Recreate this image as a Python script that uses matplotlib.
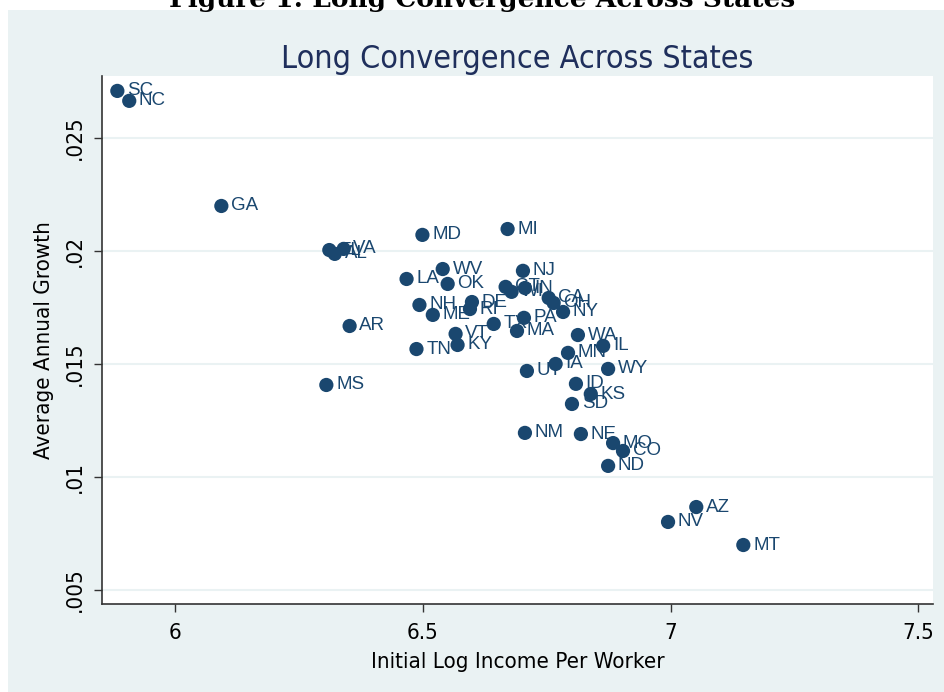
import matplotlib.pyplot as plt
from matplotlib.patches import Rectangle

# state, initial log income per worker, average annual growth
states = ["SC", "NC", "GA", "MD", "MI", "FL", "VA", "AL", "LA", "WV",
          "OK", "NH", "ME", "AR", "TN", "VT", "KY", "DE", "RI", "NJ",
          "CT", "WI", "IN", "CA", "OH", "NY", "PA", "TX", "MA", "WA",
          "IL", "MN", "IA", "UT", "WY", "ID", "KS", "SD", "NM", "NE",
          "MO", "CO", "ND", "MS", "AZ", "NV", "MT"]
log_income = [5.883, 5.907, 6.093, 6.499, 6.671, 6.311, 6.340, 6.322, 6.467, 6.540,
              6.550, 6.493, 6.520, 6.352, 6.487, 6.566, 6.570, 6.599, 6.595, 6.702,
              6.667, 6.679, 6.706, 6.754, 6.764, 6.783, 6.704, 6.643, 6.690, 6.813,
              6.864, 6.793, 6.768, 6.710, 6.874, 6.809, 6.839, 6.801, 6.706, 6.819,
              6.884, 6.904, 6.874, 6.305, 7.052, 6.995, 7.147]
growth = [0.02708, 0.02664, 0.02199, 0.02071, 0.02097, 0.02004, 0.02009, 0.01987, 0.01876, 0.01920,
          0.01854, 0.01761, 0.01717, 0.01668, 0.01566, 0.01633, 0.01584, 0.01774, 0.01743, 0.01912,
          0.01841, 0.01819, 0.01836, 0.01792, 0.01770, 0.01730, 0.01704, 0.01677, 0.01646, 0.01628,
          0.01580, 0.01549, 0.01500, 0.01469, 0.01478, 0.01412, 0.01367, 0.01323, 0.01195, 0.01190,
          0.01150, 0.01115, 0.01049, 0.01407, 0.00867, 0.00801, 0.00699]

xticks = [6, 6.5, 7, 7.5]
xtick_labels = ["6", "6.5", "7", "7.5"]
yticks = [0.005, 0.01, 0.015, 0.02, 0.025]
ytick_labels = [".005", ".01", ".015", ".02", ".025"]

navy = "#1a476f"
panel = "#eaf2f3"
narrow = dict(family="DejaVu Sans", fontstretch="condensed")

fig = plt.figure(figsize=(9.45, 6.92), dpi=100)
fig.patch.set_facecolor("white")

# graph region background
fig.patches.append(Rectangle((8 / 945, 0), 1 - 8 / 945, 1 - 10 / 692,
                             transform=fig.transFigure, facecolor=panel,
                             edgecolor="none", zorder=-10))

# figure caption, mostly cut off at the top edge
fig.text(482 / 945, 1 + 1 / 692, "Figure 1: Long Convergence Across States",
         ha="center", va="center", fontsize=19, fontweight="bold",
         family="DejaVu Serif", color="black")

ax = fig.add_axes([102 / 945, 1 - 604 / 692, (933 - 102) / 945, (604 - 76) / 692])
ax.set_facecolor("white")

ax.scatter(log_income, growth, s=105, color=navy, edgecolors="none", zorder=3)
for st, x, y in zip(states, log_income, growth):
    ax.annotate(st, (x, y), xytext=(7, 0), textcoords="offset points",
                ha="left", va="center", fontsize=13.5, color=navy,
                family="Liberation Sans", zorder=2)

ax.set_xlim(5.852, 7.53)
ax.set_ylim(0.00438, 0.02774)

ax.set_xticks(xticks)
ax.set_xticklabels(xtick_labels, fontsize=16, **narrow)
ax.set_yticks(yticks)
ax.set_yticklabels(ytick_labels, fontsize=16, rotation=90, va="center", **narrow)

ax.tick_params(axis="x", direction="out", length=6, width=1, color="#333333", pad=8)
ax.tick_params(axis="y", direction="out", length=6, width=1, color="#333333", pad=6)
ax.grid(axis="y", color=panel, linewidth=1.5, zorder=0)
ax.set_axisbelow(True)

for side in ["top", "right"]:
    ax.spines[side].set_visible(False)
for side in ["left", "bottom"]:
    ax.spines[side].set_color("#333333")
    ax.spines[side].set_linewidth(1.2)

ax.set_xlabel("Initial Log Income Per Worker", fontsize=16, labelpad=6, **narrow)
ax.set_ylabel("Average Annual Growth", fontsize=16, labelpad=8, **narrow)
ax.set_title("Long Convergence Across States", fontsize=23,
             color="#1f2f5c", pad=6, **narrow)

fig.savefig("out.png", dpi=100)
